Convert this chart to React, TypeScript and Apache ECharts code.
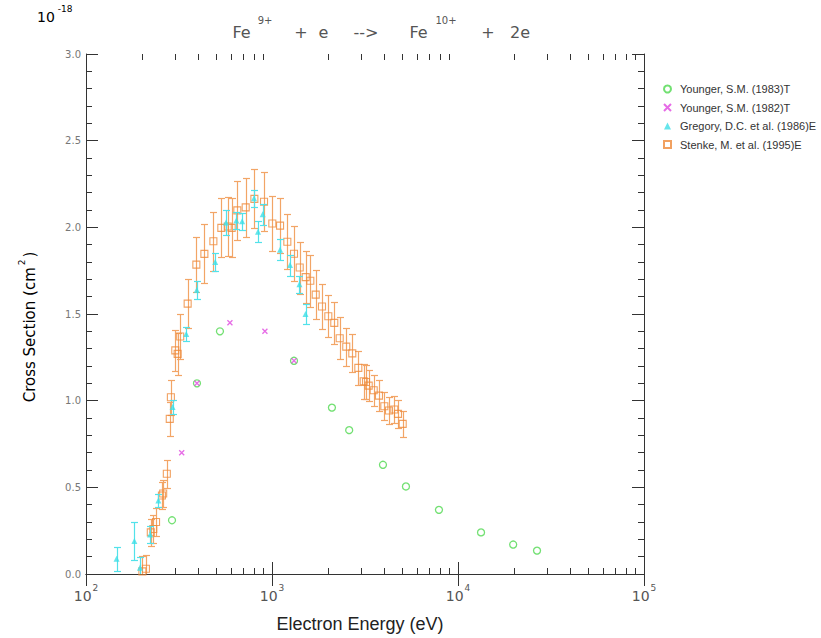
import React, { useEffect, useRef } from "react";
import * as echarts from "echarts";

// ---- Data ----
// Younger, S.M. (1983)T
const energyY83 = [290, 395, 525, 1313, 2100, 2600, 3950, 5250, 7900, 13300, 19800, 26600];
const sigmaY83 = [0.31, 1.1, 1.4, 1.23, 0.96, 0.83, 0.63, 0.505, 0.37, 0.24, 0.17, 0.135];

// Younger, S.M. (1982)T
const energyY82 = [327, 395, 594, 916, 1313];
const sigmaY82 = [0.7, 1.1, 1.45, 1.4, 1.23];

// Gregory, D.C. et al. (1986)E
const energyG86 = [146, 182, 195, 221, 245, 292, 346, 394, 495, 566, 643, 691, 800, 841, 891, 1105, 1250, 1405, 1514];
const sigmaG86 = [0.088, 0.19, 0.036, 0.228, 0.424, 0.964, 1.385, 1.638, 1.8, 2.028, 2.04, 2.035, 2.168, 1.975, 2.075, 1.87, 1.782, 1.672, 1.5];
const errG86 = [0.07, 0.11, 0.06, 0.05, 0.04, 0.04, 0.04, 0.05, 0.05, 0.07, 0.05, 0.05, 0.05, 0.06, 0.06, 0.06, 0.06, 0.05, 0.055];

// Stenke, M. et al. (1995)E
const energyS95 = [201, 210, 223, 230, 238, 256, 260, 272, 282, 286, 302, 311, 321, 352, 392, 433, 484, 534, 578, 607, 651, 722, 804, 906, 1004, 1105, 1209, 1313, 1409, 1518, 1607, 1718, 1857, 2008, 2162, 2312, 2508, 2702, 2911, 3112, 3202, 3311, 3522, 3760, 4017, 4256, 4546, 4758, 5043];
const sigmaS95 = [0.015, 0.03, 0.24, 0.26, 0.3, 0.453, 0.464, 0.578, 0.895, 1.02, 1.29, 1.27, 1.37, 1.56, 1.785, 1.847, 1.92, 1.997, 2.005, 1.997, 2.098, 2.115, 2.164, 2.148, 2.022, 2.01, 1.917, 1.848, 1.768, 1.713, 1.692, 1.612, 1.543, 1.487, 1.449, 1.36, 1.312, 1.273, 1.189, 1.112, 1.108, 1.087, 1.06, 1.029, 0.968, 0.943, 0.949, 0.924, 0.866];
const errS95 = [0.09, 0.08, 0.08, 0.08, 0.08, 0.08, 0.08, 0.08, 0.1, 0.1, 0.12, 0.12, 0.13, 0.14, 0.16, 0.17, 0.17, 0.17, 0.17, 0.17, 0.17, 0.17, 0.17, 0.17, 0.16, 0.16, 0.16, 0.16, 0.15, 0.15, 0.15, 0.14, 0.13, 0.12, 0.12, 0.12, 0.11, 0.11, 0.1, 0.1, 0.1, 0.09, 0.09, 0.09, 0.08, 0.08, 0.08, 0.08, 0.075];

// Axis ranges / ticks
const xMin = 100;
const xMax = 100000;
const yMin = 0;
const yMax = 3;
const yInterval = 0.5;
const xMinorTicks = [200, 300, 400, 500, 600, 700, 800, 900, 2000, 3000, 4000, 5000, 6000, 7000, 8000, 9000, 20000, 30000, 40000, 50000, 60000, 70000, 80000, 90000];

const names = [
  "Younger, S.M. (1983)T",
  "Younger, S.M. (1982)T",
  "Gregory, D.C. et al. (1986)E",
  "Stenke, M. et al. (1995)E",
];

const C_GREEN = "#4fd84f";
const C_MAGENTA = "#e046e0";
const C_CYAN = "#3fdfe6";
const C_ORANGE = "#ee8a3a";
const C_ORANGE_BAR = "#f2a566";
const C_CYAN_BAR = "#52e2ea";
const C_AXIS = "#333333";
const C_TEXT = "#555555";
const SANS = "'DejaVu Sans', sans-serif";
const ARIAL = "'Liberation Sans', Arial, sans-serif";

function errorBarSeries(name: string, xs: number[], ys: number[], es: number[], color: string, z: number) {
  return {
    name,
    type: "custom",
    silent: true,
    clip: true,
    z,
    data: xs.map((x, i) => [x, ys[i], es[i]]),
    encode: { x: 0, y: 1 },
    renderItem: (_params: any, api: any) => {
      const x = api.value(0);
      const y = api.value(1);
      const e = api.value(2);
      const top = api.coord([x, y + e]);
      const bot = api.coord([x, y - e]);
      const px = Math.round(top[0]) + 0.5;
      const ty = Math.round(top[1]) + 0.5;
      const by = Math.round(bot[1]) + 0.5;
      const hw = 3.5;
      const st = { stroke: color, lineWidth: 1.2 };
      return {
        type: "group",
        children: [
          { type: "line", shape: { x1: px, y1: ty, x2: px, y2: by }, style: st },
          { type: "line", shape: { x1: px - hw, y1: ty, x2: px + hw, y2: ty }, style: st },
          { type: "line", shape: { x1: px - hw, y1: by, x2: px + hw, y2: by }, style: st },
        ],
      };
    },
  };
}

export default function App() {
  const ref = useRef<HTMLDivElement>(null);

  useEffect(() => {
    if (!ref.current) return;
    const chart = echarts.init(ref.current, undefined, { renderer: "svg" });

    const supRich = {
      b: { fontSize: 14, fontFamily: SANS, color: C_TEXT, lineHeight: 20, verticalAlign: "bottom" },
      s: { fontSize: 9, fontFamily: SANS, color: C_TEXT, lineHeight: 10, verticalAlign: "top", padding: [0, 0, 0, 1] },
    };

    const titleY = 32;
    const supY = 20;
    const titleStyle = (text: string, size: number) => ({
      text,
      fontSize: size,
      fontFamily: SANS,
      fill: C_TEXT,
      align: "center",
      verticalAlign: "middle",
    });

    const option: any = {
      animation: false,
      backgroundColor: "#ffffff",
      grid: { left: 86, right: 177, top: 54, bottom: 63.5, containLabel: false },
      legend: {
        data: names,
        orient: "vertical",
        left: 663,
        top: 82,
        padding: 0,
        itemWidth: 7,
        itemHeight: 7,
        itemGap: 4.5,
        selectedMode: false,
        textStyle: { fontSize: 11, color: "#333", fontFamily: ARIAL, lineHeight: 14, padding: [0, 0, 0, 4] },
      },
      xAxis: [
        {
          type: "log",
          logBase: 10,
          min: xMin,
          max: xMax,
          splitNumber: 3,
          position: "bottom",
          axisLine: { show: true, lineStyle: { color: C_AXIS, width: 1 } },
          axisTick: { show: true, inside: true, length: 12, lineStyle: { color: C_AXIS } },
          axisLabel: {
            margin: 9,
            formatter: (v: number) => "{b|10}{s|" + Math.round(Math.log10(v)) + "}",
            rich: supRich,
          },
          splitLine: { show: false },
          name: "Electron Energy (eV)",
          nameLocation: "middle",
          nameGap: 41,
          nameTextStyle: { fontSize: 18, fontFamily: ARIAL, color: "#222", padding: [0, 10, 0, 0] },
        },
        {
          type: "log",
          logBase: 10,
          min: xMin,
          max: xMax,
          splitNumber: 3,
          position: "top",
          axisLine: { show: true, lineStyle: { color: C_AXIS, width: 1 } },
          axisTick: { show: true, inside: true, length: 12, lineStyle: { color: C_AXIS } },
          axisLabel: { show: false },
          splitLine: { show: false },
        },
      ],
      yAxis: [
        {
          type: "value",
          min: yMin,
          max: yMax,
          interval: yInterval,
          position: "left",
          axisLine: { show: true, lineStyle: { color: C_AXIS, width: 1 } },
          axisTick: { show: true, inside: true, length: 12, lineStyle: { color: C_AXIS } },
          minorTick: { show: true, splitNumber: 5, length: 6, lineStyle: { color: C_AXIS } },
          axisLabel: {
            margin: 5,
            fontSize: 10,
            fontFamily: SANS,
            color: "#777",
            formatter: (v: number) => v.toFixed(1),
          },
          splitLine: { show: false },
          minorSplitLine: { show: false },
        },
        {
          type: "value",
          min: yMin,
          max: yMax,
          interval: yInterval,
          position: "right",
          axisLine: { show: true, lineStyle: { color: C_AXIS, width: 1 } },
          axisTick: { show: true, inside: true, length: 12, lineStyle: { color: C_AXIS } },
          minorTick: { show: true, splitNumber: 5, length: 6, lineStyle: { color: C_AXIS } },
          axisLabel: { show: false },
          splitLine: { show: false },
          minorSplitLine: { show: false },
        },
      ],
      graphic: [
        {
          type: "text",
          x: 37,
          y: 14,
          style: {
            text: "{b|10}{s|-18}",
            rich: {
              b: { fontSize: 14, fontFamily: SANS, color: C_TEXT, lineHeight: 20, verticalAlign: "bottom" },
              s: { fontSize: 9, fontFamily: SANS, color: C_TEXT, lineHeight: 10, verticalAlign: "top", padding: [0, 0, 0, 3] },
            },
            align: "left",
            verticalAlign: "middle",
          },
        },
        { type: "text", x: 241.5, y: titleY, style: titleStyle("Fe", 16) },
        { type: "text", x: 265, y: supY, style: titleStyle("9+", 10) },
        { type: "text", x: 301, y: titleY, style: titleStyle("+", 16) },
        { type: "text", x: 323.5, y: titleY, style: titleStyle("e", 16) },
        { type: "text", x: 366, y: titleY, style: titleStyle("-->", 16) },
        { type: "text", x: 418.5, y: titleY, style: titleStyle("Fe", 16) },
        { type: "text", x: 446, y: supY, style: titleStyle("10+", 10) },
        { type: "text", x: 488, y: titleY, style: titleStyle("+", 16) },
        { type: "text", x: 520, y: titleY, style: titleStyle("2e", 16) },
        {
          type: "text",
          x: 27,
          y: 327,
          rotation: Math.PI / 2,
          style: {
            text: "{b|Cross Section (cm}{s|2}{b|)}",
            rich: {
              b: { fontSize: 15, fontFamily: SANS, color: C_TEXT, lineHeight: 20, verticalAlign: "bottom" },
              s: { fontSize: 9, fontFamily: SANS, color: C_TEXT, lineHeight: 10, verticalAlign: "top", padding: [0, 2, 0, 2] },
            },
            align: "center",
            verticalAlign: "middle",
          },
        },
      ],
      series: [
        {
          name: "logMinorTicks",
          type: "custom",
          silent: true,
          clip: false,
          z: 1,
          data: xMinorTicks.map((v) => [v, yMin]),
          encode: { x: 0, y: 1 },
          renderItem: (_p: any, api: any) => {
            const v = api.value(0);
            const b = api.coord([v, yMin]);
            const t = api.coord([v, yMax]);
            const px = Math.round(b[0]) + 0.5;
            const st = { stroke: C_AXIS, lineWidth: 1 };
            return {
              type: "group",
              children: [
                { type: "line", shape: { x1: px, y1: b[1], x2: px, y2: b[1] - 6 }, style: st },
                { type: "line", shape: { x1: px, y1: t[1], x2: px, y2: t[1] + 6 }, style: st },
              ],
            };
          },
        },
        {
          name: names[0],
          type: "scatter",
          z: 3,
          symbol: "circle",
          symbolSize: 7,
          itemStyle: { color: "rgba(255,255,255,0)", borderColor: C_GREEN, borderWidth: 1.3 },
          data: energyY83.map((x, i) => [x, sigmaY83[i]]),
        },
        {
          name: names[1],
          type: "scatter",
          z: 4,
          symbol: "path://M0,0L10,10M10,0L0,10",
          symbolSize: 5,
          itemStyle: { color: "rgba(255,255,255,0)", borderColor: C_MAGENTA, borderWidth: 1.3 },
          data: energyY82.map((x, i) => [x, sigmaY82[i]]),
        },
        errorBarSeries("Stenke err", energyS95, sigmaS95, errS95, C_ORANGE_BAR, 5),
        {
          name: names[3],
          type: "scatter",
          z: 6,
          symbol: "rect",
          symbolSize: 7,
          itemStyle: { color: "rgba(255,255,255,0)", borderColor: C_ORANGE, borderWidth: 1.1 },
          data: energyS95.map((x, i) => [x, sigmaS95[i]]),
        },
        errorBarSeries("Gregory err", energyG86, sigmaG86, errG86, C_CYAN_BAR, 7),
        {
          name: names[2],
          type: "scatter",
          z: 8,
          symbol: "triangle",
          symbolSize: 6,
          itemStyle: { color: C_CYAN },
          data: energyG86.map((x, i) => [x, sigmaG86[i]]),
        },
      ],
    };

    chart.setOption(option);
    return () => {
      chart.dispose();
    };
  }, []);

  return (
    <div
      ref={ref}
      style={{ position: "absolute", left: 0, top: 0, width: 821, height: 638, background: "#fff" }}
    />
  );
}
